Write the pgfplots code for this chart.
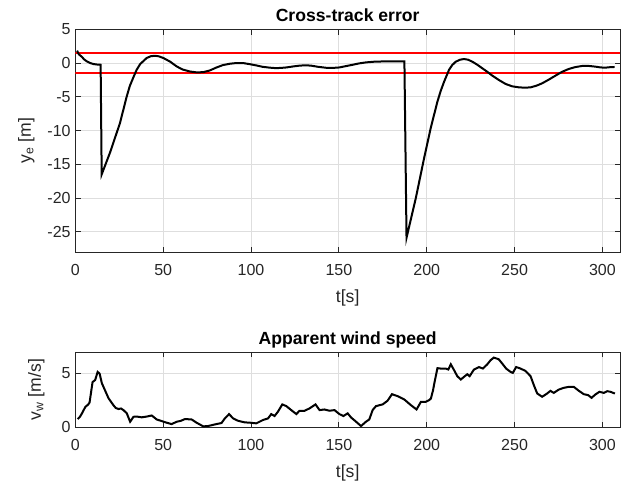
\documentclass[border=0pt]{standalone}
\usepackage{fontspec}
\setmainfont{Liberation Sans}
\usepackage{pgfplots}
\pgfplotsset{compat=1.18}
\definecolor{gridc}{gray}{0.87}
\definecolor{axc}{gray}{0.15}
\definecolor{limc}{rgb}{1,0,0}
\pgfplotsset{
  myax/.style={
    scale only axis, width=408.5pt,
    xmin=0, xmax=310,
    xtick={0,50,100,150,200,250,300},
    tick align=inside, tick pos=both, major tick length=4pt,
    grid=major, major grid style={gridc, line width=0.6pt},
    axis line style={axc, line width=0.6pt},
    every tick/.style={axc, line width=0.6pt},
    /pgf/number format/assume math mode=true,
    tick label style={font=\fontsize{12}{14}\selectfont, text=axc},
    xticklabel style={yshift=-5.5pt},
    label style={font=\fontsize{13.2}{15}\selectfont, text=axc},
    every axis title shift=0pt,
    title style={font=\fontsize{13.2}{15}\selectfont\bfseries, at={(axis description cs:0.5,1)}, anchor=base, yshift=5.7pt},
    xlabel style={at={(axis description cs:0.5,0)}, anchor=center, yshift=-34.5pt},
    xlabel={t[s]},
  }
}
\begin{document}
\begin{tikzpicture}
\path[use as bounding box] (-56.5pt,-174pt) rectangle (413pt,189pt);
\begin{axis}[myax, at={(0pt,0pt)}, anchor=south west, height=167pt,
  ymin=-28, ymax=5, ytick={-25,-20,-15,-10,-5,0,5},
  title={Cross-track error},
  ylabel={y\textsubscript{e} [m]},
  ylabel style={at={(axis description cs:-0.09,0.5)}, anchor=center},
]
\addplot[draw=limc, line width=1.15pt] coordinates {(0,1.5) (310,1.5)};
\addplot[draw=limc, line width=1.15pt] coordinates {(0,-1.5) (310,-1.5)};
\addplot[black, line width=1.5pt] coordinates {
(1,1.84) (2,1.3) (3.8,0.9) (5,0.55) (6.6,0.24) (8.5,0.0) (10.4,-0.15) (12.5,-0.22) (14.4,-0.25)
(15.0,-16.5) (19.7,-13.3) (25.4,-8.9) (29.2,-5.0) (31,-3.4) (32.9,-2.2) (34.9,-1.0) (36.9,-0.15)
(40.6,0.75) (43,1.02) (45.4,1.08) (47.5,1.0) (50.1,0.75) (54,0.2) (57.7,-0.5) (61,-0.95) (65.2,-1.25)
(69,-1.38) (72.8,-1.35) (76.5,-1.1) (80.4,-0.65) (84,-0.3) (87.9,-0.1) (91.5,0.0) (95.5,0.0) (99,-0.15)
(103,-0.35) (106.5,-0.55) (110.6,-0.68) (114,-0.75) (117,-0.72) (120.1,-0.65) (124,-0.5) (127.6,-0.38)
(131,-0.33) (134.2,-0.38) (138,-0.55) (142.8,-0.7) (146.5,-0.72) (150.3,-0.65) (154,-0.45) (157.9,-0.25)
(161.5,-0.05) (165.4,0.1) (170,0.2) (174.9,0.24) (181,0.25) (187.3,0.24)
(188.5,-25.9) (193.8,-20.0) (198.5,-14.1) (202.3,-9.6) (206.1,-5.7) (208,-4.1) (209.9,-2.75) (212.7,-1.0)
(214.5,-0.3) (216.5,0.2) (219,0.5) (221.2,0.6) (223.5,0.5) (226,0.2) (228.8,-0.25) (231.6,-0.77)
(234.5,-1.3) (237.3,-1.86) (241,-2.5) (244.9,-3.1) (248.7,-3.45) (252.5,-3.6) (256,-3.65) (259.1,-3.6)
(262.5,-3.35) (265.7,-3.0) (269.5,-2.45) (273.3,-1.86) (277,-1.3) (280.9,-0.87) (284.5,-0.6) (288.4,-0.43)
(292,-0.42) (296,-0.53) (299,-0.65) (301.6,-0.68) (304,-0.62) (306.9,-0.58)
};
\end{axis}
\begin{axis}[myax, at={(0pt,-131.5pt)}, anchor=south west, height=56.5pt,
  ymin=0, ymax=7, ytick={0,5},
  title={Apparent wind speed},
  ylabel={v\textsubscript{w} [m/s]},
  ylabel style={at={(axis description cs:-0.0716,0.5)}, anchor=center},
]
\addplot[black, line width=1.5pt] coordinates {
(1.3,0.77) (2.5,0.95) (3.8,1.3) (5.7,1.9) (7.2,2.1) (8.1,2.3) (9.8,4.2) (11.3,4.4) (12.7,5.15) (13.8,5.0)
(15.1,4.1) (17.0,3.4) (18.9,2.7) (21.7,2.05) (23,1.8) (24.6,1.7) (26,1.75) (27.4,1.6) (29.3,1.3) (31.2,0.52)
(33.1,0.98) (35.0,1.0) (37.8,0.93) (40.6,1.0) (43.5,1.1) (46.3,0.73) (49.2,0.58) (52,0.43) (54.8,0.3)
(57.7,0.52) (60,0.6) (62.4,0.77) (66.2,0.73) (69,0.43) (72.8,0.09) (75.6,0.12) (79.4,0.27) (83.2,0.4)
(85.1,0.83) (87.5,1.23) (89.8,0.83) (92.6,0.61) (96.4,0.46) (99.5,0.43) (103,0.37) (106.8,0.68) (109.7,0.83)
(111.5,1.23) (113.4,1.05) (115.3,1.45) (117.8,2.13) (120.1,1.97) (122.9,1.6) (125.8,1.23) (127.6,1.54)
(130.5,1.54) (133.3,1.76) (136.7,2.13) (139,1.6) (141.8,1.66) (144.6,1.54) (147.5,1.6) (150.3,1.23)
(152.6,1.05) (155,1.3) (156.9,0.92) (159.8,0.52) (162.6,0.12) (165.4,0.52) (167.3,0.73) (169.2,1.6)
(171.1,1.97) (174.9,2.13) (177.7,2.47) (180.2,3.08) (183.4,2.9) (187.2,2.59) (191,2.06) (194.2,1.66)
(196.7,2.37) (199.5,2.37) (201.4,2.53) (202.4,2.68) (203.6,3.45) (204.3,4.07) (206.1,5.5) (208,5.46)
(210.8,5.46) (212.3,5.37) (213.7,5.86) (215.6,5.3) (217.4,4.75) (219.4,4.44) (221.2,4.69) (223.1,4.93)
(224.4,4.75) (226.9,5.37) (229.7,5.6) (232,5.46) (234.5,5.86) (236.3,6.23) (238.2,6.48) (241,6.32)
(243,5.92) (245.2,5.46) (247.7,5.15) (249,5.06) (250.9,5.6) (253.4,5.46) (256.2,5.24) (259.1,4.75)
(261,3.91) (262.9,3.14) (265.7,2.84) (268.5,3.14) (270.4,3.39) (272.3,3.2) (275.2,3.51) (278,3.67)
(280.9,3.76) (283.7,3.76) (286.6,3.39) (289.4,3.08) (291.9,2.99) (293.8,2.74) (296,3.05) (298.3,3.3)
(300.8,3.2) (302.7,3.36) (304.6,3.3) (307.1,3.14)
};
\end{axis}
\end{tikzpicture}
\end{document}
